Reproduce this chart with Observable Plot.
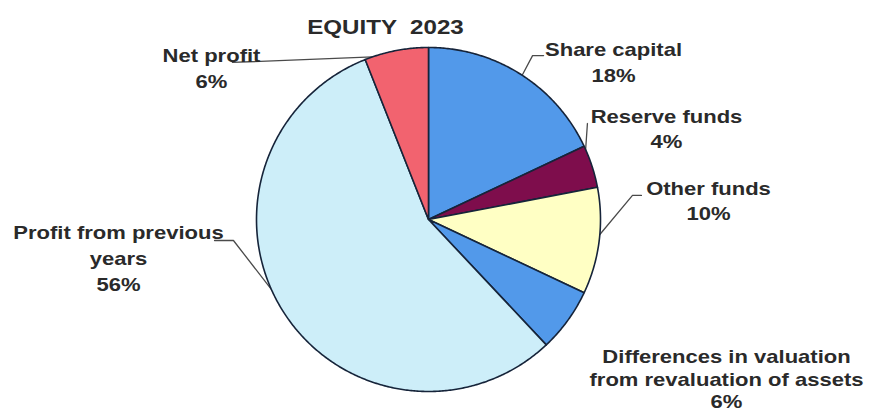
<!DOCTYPE html>
<html>
<head>
<meta charset="utf-8">
<script src="https://cdn.jsdelivr.net/npm/d3@7"></script>
<script src="https://cdn.jsdelivr.net/npm/@observablehq/plot@0.6"></script>
<style>
  html, body { margin: 0; padding: 0; background: #ffffff; }
  #chart svg { display: block; }
</style>
</head>
<body>
<div id="chart"></div>
<script>
// ---- data ----
const titleText = "EQUITY  2023";
const categories = [
  "Share capital",
  "Reserve funds",
  "Other funds",
  "Differences in valuation from revaluation of assets",
  "Profit from previous years",
  "Net profit"
];
const shares = [18, 4, 10, 6, 56, 6];
const labelLines = [
  "Share capital\n18%",
  "Reserve funds\n4%",
  "Other funds\n10%",
  "Differences in valuation\nfrom revaluation of assets\n6%",
  "Profit from previous\nyears\n56%",
  "Net profit\n6%"
];

// ---- styles / layout (kept separate from data) ----
const sliceColors = ["#5299ea", "#7e0d4c", "#ffffc4", "#5299ea", "#cdeef9", "#f2636f"];
// label anchor (baseline of last line), in pie-radius units
const labelAnchor = [
  [1.0756, 0.8023],
  [1.3837, 0.4128],
  [1.6279, -0.0058],
  [1.7326, -1.0988],
  [-1.8023, -0.4128],
  [-1.2616, 0.7674]
];
// leader lines: rim angle (deg), then extra points (pie-radius units)
const leaderRimAngle = [33, 66, 95, null, 246, 341];
const leaderPoints = [
  [[0.605, 0.953], [0.669, 0.953]],
  [[0.924, 0.558]],
  [[1.186, 0.140], [1.238, 0.140]],
  null,
  [[-1.134, -0.122], [-1.244, -0.122]],
  [[-1.140, 0.913]]
];
const titleAnchor = [-0.25, 1.0756];

// ---- build geometry from data ----
const arcs = d3.pie().sort(null).value(d => d)(shares);
const slices = arcs.map((a, i) => {
  const pts = [[0, 0]];
  const n = Math.max(2, Math.ceil((a.endAngle - a.startAngle) / (Math.PI / 360)));
  for (let k = 0; k <= n; ++k) {
    const t = a.startAngle + (a.endAngle - a.startAngle) * k / n;
    pts.push([Math.sin(t), Math.cos(t)]);
  }
  pts.push([0, 0]);
  return {type: "Feature", properties: {name: categories[i], color: sliceColors[i]},
          geometry: {type: "Polygon", coordinates: [pts]}};
});

const leaders = [];
leaderRimAngle.forEach((ang, i) => {
  if (ang == null) return;
  const r = ang * Math.PI / 180;
  leaders.push({type: "Feature", properties: {},
    geometry: {type: "LineString", coordinates: [[Math.sin(r), Math.cos(r)], ...leaderPoints[i]]}});
});

const allLabels = labelLines.map((t, i) => ({text: t, x: labelAnchor[i][0], y: labelAnchor[i][1], i}));
const mainLabels = allLabels.filter(d => d.i !== 3);
const diffLabel = allLabels.filter(d => d.i === 3);

const font = "'Liberation Sans', Arial, Helvetica, sans-serif";

const chart = Plot.plot({
  width: 869,
  height: 411,
  margin: 0,
  projection: {
    type: "reflect-y",
    domain: {type: "MultiPoint", coordinates: [[-1, -1], [1, 1]]},
    insetTop: 47, insetBottom: 20, insetLeft: 0, insetRight: 13
  },
  color: {type: "identity"},
  style: {background: "#ffffff", fontFamily: font},
  marks: [
    Plot.geo(leaders, {stroke: "#4a4a4a", strokeWidth: 1.3, fill: "none"}),
    Plot.geo(slices, {fill: d => d.properties.color, stroke: "#16243a", strokeWidth: 1.6, strokeLinejoin: "round"}),
    Plot.text(mainLabels, {x: "x", y: "y", text: "text", lineAnchor: "bottom", lineHeight: 1.38,
      fontSize: 18.5, fontWeight: "bold", fill: "#2a2a2a", textAnchor: "middle", fontFamily: font}),
    Plot.text(diffLabel, {x: "x", y: "y", text: "text", lineAnchor: "bottom", lineHeight: 1.22,
      fontSize: 18.5, fontWeight: "bold", fill: "#2a2a2a", textAnchor: "middle", fontFamily: font}),
    Plot.text([{t: titleText, x: titleAnchor[0], y: titleAnchor[1]}], {x: "x", y: "y", text: "t",
      lineAnchor: "bottom", fontSize: 21, fontWeight: "bold", fill: "#2a2a2a", textAnchor: "middle",
      fontFamily: font})
  ]
});

// widen label glyphs horizontally to match the reference's wide lettering
chart.querySelectorAll("text").forEach(t => {
  const s = t.textContent.startsWith("EQUITY") ? 1.15 : 1.19;
  const tr = t.getAttribute("transform");
  if (tr) t.setAttribute("transform", tr + ` scale(${s},1)`);
});

document.getElementById("chart").appendChild(chart);
</script>
</body>
</html>
